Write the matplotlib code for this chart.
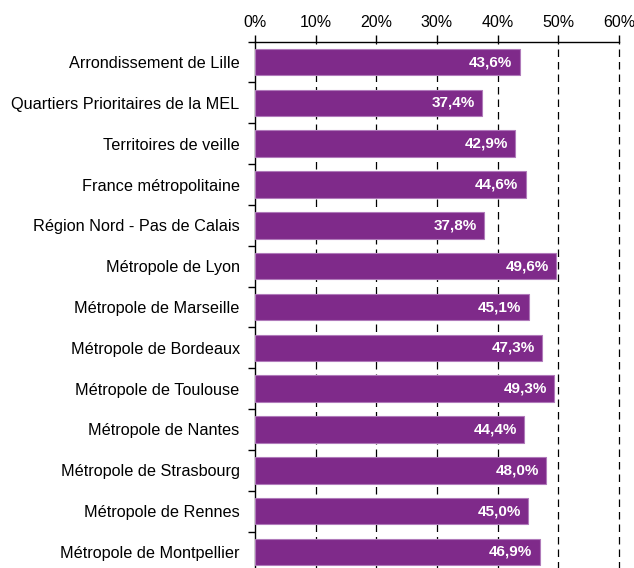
import matplotlib
matplotlib.use("Agg")
import matplotlib.pyplot as plt
import numpy as np

plt.rcParams['font.family'] = ['Liberation Sans', 'DejaVu Sans']

categories = ["Arrondissement de Lille", "Quartiers Prioritaires de la MEL",
              "Territoires de veille", "France métropolitaine",
              "Région Nord - Pas de Calais", "Métropole de Lyon",
              "Métropole de Marseille", "Métropole de Bordeaux",
              "Métropole de Toulouse", "Métropole de Nantes",
              "Métropole de Strasbourg", "Métropole de Rennes",
              "Métropole de Montpellier"]
values = [43.6, 37.4, 42.9, 44.6, 37.8, 49.6, 45.1, 47.3, 49.3, 44.4, 48.0, 45.0, 46.9]
xticks = [0, 10, 20, 30, 40, 50, 60]

fig = plt.figure(figsize=(6.34, 5.68), dpi=100)
ax = fig.add_axes([255/634, -4.4/568, (619-255)/634, (572.4-41.6)/568])

y = np.arange(len(categories))
ax.barh(y, values, height=0.65, color='#7F2A8A', edgecolor='#B07ABA', linewidth=0.8, zorder=3)
for yi, v in zip(y, values):
    ax.text(v - 1.2, yi, f"{v:.1f}%".replace('.', ','), ha='right', va='center',
            color='white', fontweight='bold', fontsize=11, zorder=4)

ax.set_xlim(0, 60)
ax.set_ylim(len(categories) - 0.5, -0.5)
ax.xaxis.tick_top()
ax.set_xticks(xticks)
ax.set_xticklabels([f"{t}%" for t in xticks], fontsize=11.5)
ax.tick_params(axis='x', direction='out', length=5, width=1, pad=3)
for t in xticks[1:]:
    ax.axvline(t, color='black', linestyle=(0, (6, 4)), linewidth=0.9, zorder=1, clip_on=False)

ax.set_yticks(y)
ax.set_yticklabels(categories, fontsize=11.7)
ax.tick_params(axis='y', which='major', length=0, pad=11)
ax.set_yticks(np.arange(-0.5, len(categories), 1), minor=True)
ax.tick_params(axis='y', which='minor', length=5, width=1, direction='out')

for s in ['right', 'bottom']:
    ax.spines[s].set_visible(False)
ax.spines['top'].set_linewidth(1)
ax.spines['left'].set_linewidth(1)

fig.savefig('out.png', dpi=100)
